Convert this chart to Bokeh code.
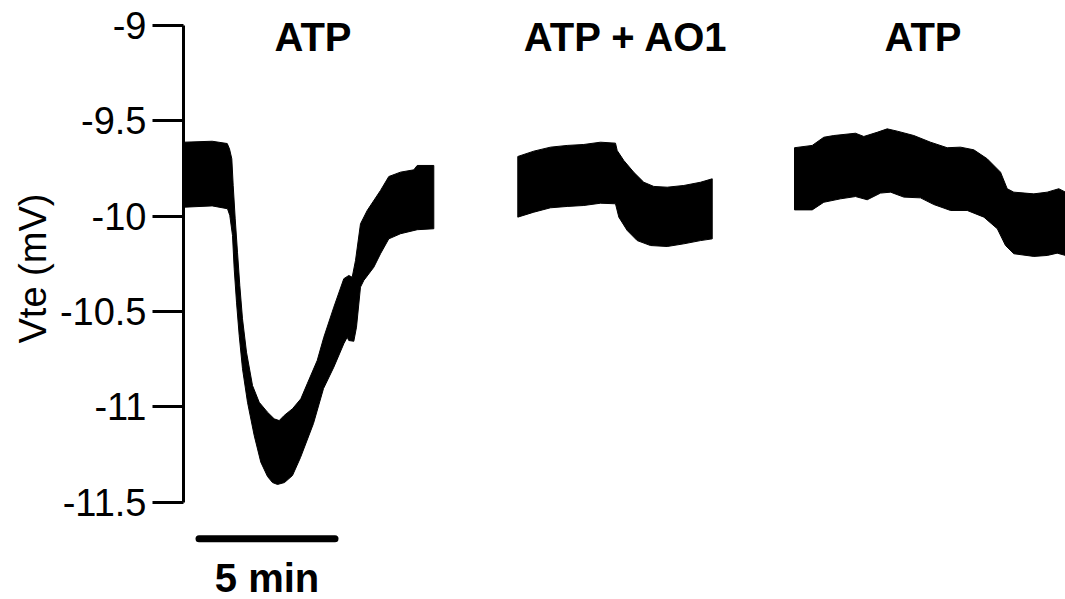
from bokeh.plotting import figure
from bokeh.models import Range1d, FixedTicker, Title
from bokeh.embed import file_html
from bokeh.resources import INLINE
from bokeh.core.properties import value

# ---------------- data (time in min, Vte in mV) ----------------
y_ticks = [-11.5, -11.0, -10.5, -10.0, -9.5, -9.0]
y_tick_labels = ["-11.5", "-11", "-10.5", "-10", "-9.5", "-9"]
y_title = "Vte (mV)"

titles = ["ATP", "ATP + AO1", "ATP"]

# trace 1 (ATP)
t1_up = [0.018, 1.055, 1.607, 1.691, 1.776, 1.827, 1.901, 1.985, 2.070, 2.169, 2.316,
         2.537, 2.783, 3.088, 3.335, 3.518, 3.702, 4.007, 4.313, 4.548, 4.915, 5.158,
         5.526, 5.893, 6.077, 6.202, 6.324, 6.507, 6.754, 7.243, 7.548, 7.978, 8.467,
         8.592, 9.202]
v1_up = [-9.612, -9.607, -9.619, -9.647, -9.699, -9.839, -10.014, -10.189, -10.364,
         -10.538, -10.713, -10.888, -10.976, -11.028, -11.063, -11.072, -11.045, -11.010,
         -10.958, -10.879, -10.757, -10.635, -10.477, -10.328, -10.311, -10.320, -10.232,
         -10.040, -9.970, -9.865, -9.792, -9.769, -9.757, -9.734, -9.734]
t1_lo = [0.018, 1.055, 1.618, 1.702, 1.801, 1.864, 1.949, 2.048, 2.169, 2.353, 2.599,
         2.842, 3.088, 3.272, 3.456, 3.713, 4.007, 4.301, 4.779, 5.147, 5.526, 5.893,
         6.018, 6.077, 6.261, 6.360, 6.507, 6.629, 6.996, 7.243, 7.548, 7.978, 8.592,
         9.202]
v1_lo = [-9.953, -9.946, -9.961, -9.996, -10.101, -10.276, -10.451, -10.626, -10.800,
         -10.976, -11.150, -11.290, -11.365, -11.397, -11.407, -11.397, -11.360, -11.266,
         -11.087, -10.904, -10.792, -10.669, -10.635, -10.652, -10.656, -10.582, -10.372,
         -10.337, -10.268, -10.197, -10.119, -10.092, -10.071, -10.066]

# trace 2 (ATP + AO1)
t2_up = [12.290, 12.879, 13.493, 14.107, 14.717, 15.331, 15.882, 15.945, 16.188, 16.555,
         16.923, 17.290, 17.783, 18.393, 19.007, 19.438]
v2_up = [-9.687, -9.659, -9.638, -9.629, -9.624, -9.612, -9.617, -9.656, -9.708, -9.770,
         -9.822, -9.844, -9.848, -9.839, -9.822, -9.804]
t2_lo = [12.290, 12.879, 13.493, 14.107, 14.717, 15.331, 15.882, 16.004, 16.312, 16.680,
         17.169, 17.783, 18.393, 19.007, 19.438]
v2_lo = [-10.005, -9.979, -9.956, -9.949, -9.944, -9.932, -9.935, -10.005, -10.075,
         -10.128, -10.154, -10.159, -10.145, -10.128, -10.119]

# trace 3 (ATP)
t3_up = [22.463, 23.114, 23.540, 23.908, 24.706, 25.011, 25.504, 25.871, 26.239, 26.849,
         27.463, 28.077, 28.566, 29.055, 29.548, 30.037, 30.283, 30.526, 31.261, 31.754,
         32.180, 32.426]
v3_up = [-9.641, -9.629, -9.586, -9.577, -9.565, -9.582, -9.560, -9.542, -9.554, -9.577,
         -9.612, -9.641, -9.638, -9.652, -9.699, -9.769, -9.856, -9.874, -9.883, -9.874,
         -9.856, -9.874]
t3_lo = [22.463, 23.114, 23.540, 24.154, 24.706, 25.136, 25.625, 25.993, 26.482, 27.096,
         27.585, 28.199, 28.812, 29.426, 29.919, 30.221, 30.526, 31.261, 31.754, 32.121,
         32.426]
v3_lo = [-9.967, -9.967, -9.927, -9.909, -9.897, -9.914, -9.879, -9.874, -9.900, -9.904,
         -9.939, -9.970, -9.970, -10.005, -10.066, -10.154, -10.197, -10.211, -10.206,
         -10.194, -10.206]

scale_bar_min = 5
scale_bar_label = "5 min"

# ---------------- figure ----------------
FONT = "Liberation Sans"

p = figure(width=1065, height=599, output_backend="svg", toolbar_location=None,
           x_range=Range1d(0, 32.426), y_range=Range1d(-12.0103, -8.8689),
           x_axis_location=None,
           min_border_left=183, min_border_right=0, min_border_top=0, min_border_bottom=0)
p.grid.visible = False
p.outline_line_color = None
p.background_fill_color = "white"
p.border_fill_color = "white"

for tu, vu, tl, vl in [(t1_up, v1_up, t1_lo, v1_lo),
                       (t2_up, v2_up, t2_lo, v2_lo),
                       (t3_up, v3_up, t3_lo, v3_lo)]:
    p.patch(x=tu + tl[::-1], y=vu + vl[::-1], fill_color="black",
            line_color="black", line_width=1)

ax = p.yaxis[0]
ax.ticker = FixedTicker(ticks=y_ticks)
ax.bounds = (y_ticks[0], y_ticks[-1])
ax.major_label_overrides = {t: s for t, s in zip(y_ticks, y_tick_labels)}
ax.major_tick_out = 31
ax.major_tick_in = 0
ax.minor_tick_out = 0
ax.minor_tick_in = 0
ax.axis_line_width = 3
ax.major_tick_line_width = 3
ax.axis_line_color = "black"
ax.major_tick_line_color = "black"
ax.major_label_standoff = 6
ax.major_label_text_font = FONT
ax.major_label_text_font_size = "38px"
ax.major_label_text_color = "black"

# y-axis title in the left panel, shifted up to centre it on the axis' extent
p.add_layout(Title(text=y_title, align="left", offset=256, standoff=6,
                   text_font=FONT, text_font_style="normal",
                   text_font_size="38px", text_color="black"), "left")

# condition titles
title_x = [4.761, 16.279, 27.188]
p.text(x=title_x, y=[-9.0577] * 3, text=titles, text_align="center",
       text_baseline="alphabetic", text_font=value(FONT), text_font_style="bold",
       text_font_size="40px", text_color="black")

# scale bar
bar_start = 0.57
p.line(x=[bar_start, bar_start + scale_bar_min], y=[-11.692, -11.692],
       line_color="black", line_width=7, line_cap="round")
p.text(x=[bar_start + scale_bar_min / 2], y=[-11.8986], text=[scale_bar_label],
       text_align="center", text_baseline="alphabetic", text_font=value(FONT),
       text_font_style="bold", text_font_size="40px", text_color="black")

open("out.html", "w").write(file_html(p, INLINE))
